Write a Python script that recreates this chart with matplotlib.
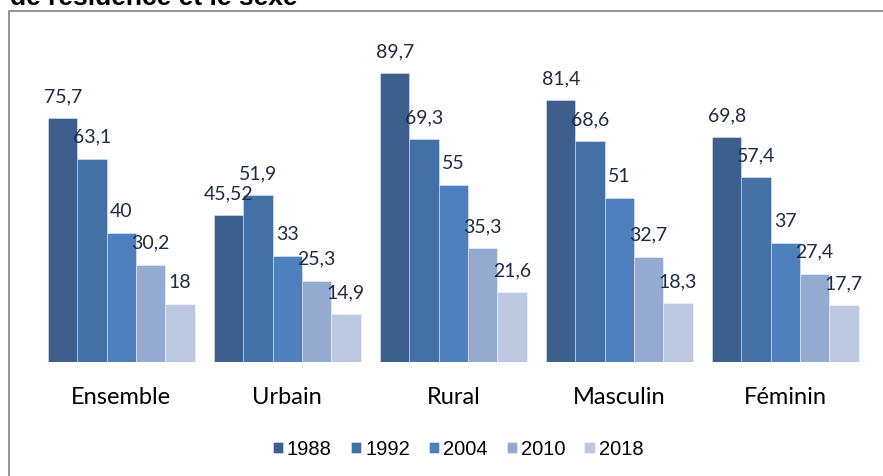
import matplotlib
matplotlib.use("Agg")
import matplotlib.pyplot as plt
from matplotlib.lines import Line2D
import numpy as np

# data
categories = ["Ensemble", "Urbain", "Rural", "Masculin", "Féminin"]
years = ["1988", "1992", "2004", "2010", "2018"]
v1988 = [75.7, 45.52, 89.7, 81.4, 69.8]
v1992 = [63.1, 51.9, 69.3, 68.6, 57.4]
v2004 = [40, 33, 55, 51, 37]
v2010 = [30.2, 25.3, 35.3, 32.7, 27.4]
v2018 = [18, 14.9, 21.6, 18.3, 17.7]
series = [v1988, v1992, v2004, v2010, v2018]
colors = ["#3C5F8E", "#4471A5", "#4D80BC", "#95AAD1", "#BDC9E1"]

W, H = 883, 477
fig = plt.figure(figsize=(W / 100, H / 100), dpi=100)

# plot area in pixels (left, top, right, bottom)
left, top, right, bottom = 38.3, 41, 868.3, 363
ax = fig.add_axes([left / W, 1 - bottom / H, (right - left) / W, (bottom - top) / H])

x = np.arange(len(categories))
w = 0.1765
for i, (vals, col, yr) in enumerate(zip(series, colors, years)):
    pos = x + (i - 2) * w
    ax.bar(pos, vals, width=w, color=col, edgecolor=(1, 1, 1, 0.45),
           linewidth=0.6, label=yr)
    for px, v in zip(pos, vals):
        ax.annotate(f"{v:g}".replace(".", ","), (px, v), xytext=(0, 12.2),
                    textcoords="offset points", ha="center", va="baseline",
                    fontsize=14, family="Lato", color="#1E2B45")

ax.set_xlim(-0.5, 4.5)
ax.set_ylim(0, 100)
ax.set_yticks([])
ax.set_xticks(x)
ax.set_xticklabels(categories, fontsize=17, family="Lato")
ax.tick_params(axis="x", length=0, pad=17)
for s in ax.spines.values():
    s.set_visible(False)

leg = fig.legend(loc="center", bbox_to_anchor=(458 / W, 1 - 450 / H), ncol=5,
                 frameon=False, handlelength=0.5, handleheight=0.5,
                 handletextpad=0.2, columnspacing=0.95,
                 prop={"family": "Liberation Sans", "size": 14.5})

# outer frame of the chart object (only top and left visible)
fig.add_artist(Line2D([9 / W, 9 / W, 1], [0, 1 - 12 / H, 1 - 12 / H],
                      transform=fig.transFigure, color="#8A8A8A", linewidth=1.3))

# title, mostly cut off at the top edge as in the source
fig.text(10 / W, 1 - 5 / H, "de résidence et le sexe", ha="left", va="baseline",
         fontsize=19, fontweight="bold", family="Liberation Sans", color="black")

fig.savefig("out.png", dpi=100)
